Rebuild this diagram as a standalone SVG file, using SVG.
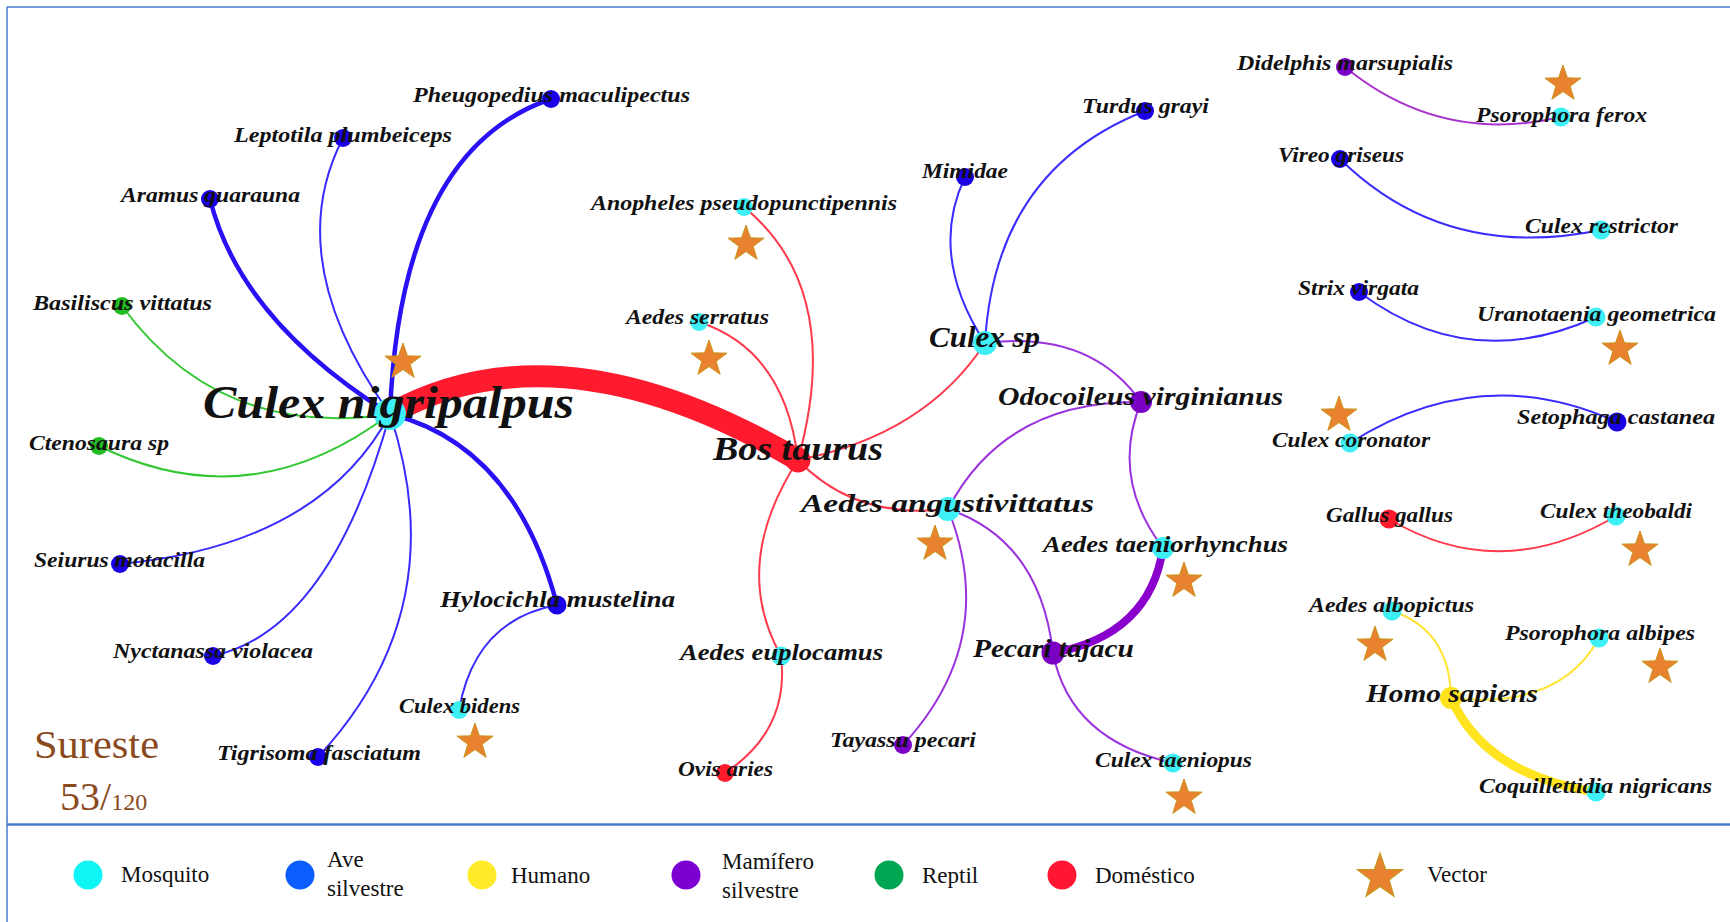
<svg xmlns="http://www.w3.org/2000/svg" width="1730" height="922" viewBox="0 0 1730 922">
<defs>
<style>
.e{fill:none;stroke-linecap:round}
.bl{stroke:#3a2bff;stroke-width:2}
.blt{stroke:#2a10f5;stroke-width:4.5}
.gr{stroke:#33c833;stroke-width:2}
.rd{stroke:#ff3a4c;stroke-width:2}
.pu{stroke:#9a33dd;stroke-width:2}
.ye{stroke:#ffe433;stroke-width:2}
.mo{fill:#3ef0f6}
.av{fill:#1a00e6}
.ma{fill:#7a00c4}
.re{fill:#ff1a2e}
.rp{fill:#22bb22}
.hu{fill:#ffe31a}
.t{font-family:"Liberation Serif",serif;font-weight:bold;font-style:italic;fill:#111;font-size:21px}
.s23{font-size:23px}
.s26{font-size:26px}
.s30{font-size:30px}
.s33{font-size:33px}
.s46{font-size:46px}
.lg{font-family:"Liberation Serif","Times New Roman",serif;fill:#111;font-size:23px}
.st{fill:#e8822e;stroke:#c8961e;stroke-width:1}
</style>
<path id="star" d="M0,-19 L4.47,-6.15 L18.07,-5.87 L7.23,2.35 L11.17,15.37 L0,7.6 L-11.17,15.37 L-7.23,2.35 L-18.07,-5.87 L-4.47,-6.15 Z"/>
</defs>
<rect x="0" y="0" width="1730" height="922" fill="#fff"/>
<g id="frame" stroke="#4a78cc" fill="none">
<line x1="7" y1="7" x2="1730" y2="7" stroke-width="1.5"/>
<line x1="7" y1="7" x2="7" y2="922" stroke-width="1.5"/>
<line x1="7" y1="824.5" x2="1730" y2="824.5" stroke-width="2.5"/>
</g>
<g id="connectors">
<path class="e" d="M390,414 Q560,320 798,460" stroke="#ff1a2e" stroke-width="22"/>
<path class="e blt" d="M390,414 Q400,150 551,99"/>
<path class="e bl" d="M390,414 Q280,260 343,138"/>
<path class="e blt" d="M390,414 Q240,320 210,199"/>
<path class="e gr" d="M390,414 Q220,440 122,306"/>
<path class="e gr" d="M390,414 Q250,520 99,446"/>
<path class="e bl" d="M390,414 Q320,545 120,564"/>
<path class="e bl" d="M390,414 Q330,630 213,656"/>
<path class="e bl" d="M390,414 Q455,610 318,757"/>
<path class="e blt" d="M390,414 Q515,445 557,605"/>
<path class="e bl" d="M557,605 Q475,620 459,710"/>
<path class="e rd" d="M798,460 Q845,290 744,207"/>
<path class="e rd" d="M798,460 Q785,350 699,322"/>
<path class="e rd" d="M798,460 Q925,435 985,343"/>
<path class="e rd" d="M798,460 Q855,520 948,509"/>
<path class="e rd" d="M798,460 Q730,565 781,656"/>
<path class="e rd" d="M781,656 Q790,730 725,773"/>
<path class="e bl" d="M985,343 Q928,255 965,177"/>
<path class="e bl" d="M985,343 Q995,170 1145,111"/>
<path class="e pu" d="M985,343 Q1090,330 1141,402"/>
<path class="e pu" d="M1141,402 Q1005,400 948,509"/>
<path class="e pu" d="M1141,402 Q1110,478 1163,548"/>
<path class="e pu" d="M948,509 Q1040,540 1053,653"/>
<path class="e pu" d="M948,509 Q1000,640 903,745"/>
<path class="e" d="M1163,548 Q1150,635 1053,653" stroke="#8a00cc" stroke-width="8"/>
<path class="e pu" d="M1053,653 Q1070,740 1173,763"/>
<path class="e" d="M1345,67 Q1440,145 1561,117" stroke="#a833cc" stroke-width="2"/>
<path class="e bl" d="M1340,159 Q1445,262 1601,230"/>
<path class="e bl" d="M1359,292 Q1470,375 1596,317"/>
<path class="e bl" d="M1350,443 Q1480,360 1617,422"/>
<path class="e rd" d="M1389,519 Q1500,585 1616,516"/>
<path class="e ye" d="M1451,698 Q1450,630 1392,611"/>
<path class="e ye" d="M1451,698 Q1560,710 1599,638"/>
<path class="e" d="M1451,698 Q1485,775 1596,792" stroke="#ffe41f" stroke-width="9"/>
</g>
<g id="n-culex-nigripalpus"><circle class="mo" cx="390" cy="414" r="16"/><use href="#star" class="st" x="403" y="362"/><text class="t s46" x="203" y="418" textLength="371" lengthAdjust="spacingAndGlyphs">Culex nigripalpus</text></g>
<g id="n-pheugopedius"><circle class="av" cx="551" cy="99" r="9"/><text class="t" x="413" y="102" textLength="277" lengthAdjust="spacingAndGlyphs">Pheugopedius maculipectus</text></g>
<g id="n-leptotila"><circle class="av" cx="343" cy="138" r="9"/><text class="t" x="234" y="142" textLength="218" lengthAdjust="spacingAndGlyphs">Leptotila plumbeiceps</text></g>
<g id="n-aramus"><circle class="av" cx="210" cy="199" r="9"/><text class="t" x="121" y="202" textLength="179" lengthAdjust="spacingAndGlyphs">Aramus guarauna</text></g>
<g id="n-basiliscus"><circle class="rp" cx="122" cy="306" r="9"/><text class="t" x="33" y="310" textLength="179" lengthAdjust="spacingAndGlyphs">Basiliscus vittatus</text></g>
<g id="n-ctenosaura"><circle class="rp" cx="99" cy="446" r="9"/><text class="t" x="29" y="450" textLength="140" lengthAdjust="spacingAndGlyphs">Ctenosaura sp</text></g>
<g id="n-seiurus"><circle class="av" cx="120" cy="564" r="9"/><text class="t" x="34" y="567" textLength="171" lengthAdjust="spacingAndGlyphs">Seiurus motacilla</text></g>
<g id="n-nyctanassa"><circle class="av" cx="213" cy="656" r="9"/><text class="t" x="113" y="658" textLength="200" lengthAdjust="spacingAndGlyphs">Nyctanassa violacea</text></g>
<g id="n-tigrisoma"><circle class="av" cx="318" cy="757" r="9"/><text class="t" x="217" y="760" textLength="204" lengthAdjust="spacingAndGlyphs">Tigrisoma fasciatum</text></g>
<g id="n-hylocichla"><circle class="av" cx="557" cy="605" r="9.5"/><text class="t s23" x="440" y="607" textLength="235" lengthAdjust="spacingAndGlyphs">Hylocichla mustelina</text></g>
<g id="n-culex-bidens"><circle class="mo" cx="459" cy="710" r="9"/><use href="#star" class="st" x="475" y="742"/><text class="t" x="399" y="713" textLength="121" lengthAdjust="spacingAndGlyphs">Culex bidens</text></g>
<g id="n-anopheles"><circle class="mo" cx="744" cy="207" r="9"/><use href="#star" class="st" x="746" y="244"/><text class="t" x="591" y="210" textLength="306" lengthAdjust="spacingAndGlyphs">Anopheles pseudopunctipennis</text></g>
<g id="n-aedes-serratus"><circle class="mo" cx="699" cy="322" r="9"/><use href="#star" class="st" x="709" y="359"/><text class="t" x="626" y="324" textLength="143" lengthAdjust="spacingAndGlyphs">Aedes serratus</text></g>
<g id="n-bos-taurus"><circle class="re" cx="798" cy="460" r="12.5"/><text class="t s33" x="713" y="460" textLength="170" lengthAdjust="spacingAndGlyphs">Bos taurus</text></g>
<g id="n-aedes-euplocamus"><circle class="mo" cx="781" cy="656" r="9.5"/><text class="t s23" x="680" y="660" textLength="203" lengthAdjust="spacingAndGlyphs">Aedes euplocamus</text></g>
<g id="n-ovis-aries"><circle class="re" cx="725" cy="773" r="9"/><text class="t" x="678" y="776" textLength="95" lengthAdjust="spacingAndGlyphs">Ovis aries</text></g>
<g id="n-mimidae"><circle class="av" cx="965" cy="177" r="9"/><text class="t" x="922" y="178" textLength="86" lengthAdjust="spacingAndGlyphs">Mimidae</text></g>
<g id="n-turdus"><circle class="av" cx="1145" cy="111" r="9"/><text class="t" x="1082" y="113" textLength="127" lengthAdjust="spacingAndGlyphs">Turdus grayi</text></g>
<g id="n-culex-sp"><circle class="mo" cx="985" cy="343" r="12"/><text class="t s30" x="929" y="347" textLength="111" lengthAdjust="spacingAndGlyphs">Culex sp</text></g>
<g id="n-odocoileus"><circle class="ma" cx="1141" cy="402" r="11"/><text class="t s26" x="998" y="405" textLength="285" lengthAdjust="spacingAndGlyphs">Odocoileus virginianus</text></g>
<g id="n-aedes-angustivittatus"><circle class="mo" cx="948" cy="509" r="12"/><use href="#star" class="st" x="935" y="544"/><text class="t s26" x="801" y="512" textLength="293" lengthAdjust="spacingAndGlyphs">Aedes angustivittatus</text></g>
<g id="n-aedes-taeniorhynchus"><circle class="mo" cx="1163" cy="548" r="11"/><use href="#star" class="st" x="1184" y="581"/><text class="t s23" x="1043" y="552" textLength="245" lengthAdjust="spacingAndGlyphs">Aedes taeniorhynchus</text></g>
<g id="n-pecari"><circle class="ma" cx="1053" cy="653" r="11.5"/><text class="t s26" x="973" y="657" textLength="161" lengthAdjust="spacingAndGlyphs">Pecari tajacu</text></g>
<g id="n-tayassu"><circle class="ma" cx="903" cy="745" r="9"/><text class="t" x="830" y="747" textLength="146" lengthAdjust="spacingAndGlyphs">Tayassu pecari</text></g>
<g id="n-culex-taeniopus"><circle class="mo" cx="1173" cy="763" r="9.5"/><use href="#star" class="st" x="1184" y="798"/><text class="t" x="1095" y="767" textLength="157" lengthAdjust="spacingAndGlyphs">Culex taeniopus</text></g>
<g id="n-didelphis"><circle class="ma" cx="1345" cy="67" r="9"/><text class="t" x="1237" y="70" textLength="216" lengthAdjust="spacingAndGlyphs">Didelphis marsupialis</text></g>
<g id="n-psorophora-ferox"><circle class="mo" cx="1561" cy="117" r="9.5"/><use href="#star" class="st" x="1563" y="84"/><text class="t" x="1476" y="122" textLength="171" lengthAdjust="spacingAndGlyphs">Psorophora ferox</text></g>
<g id="n-vireo"><circle class="av" cx="1340" cy="159" r="9"/><text class="t" x="1278" y="162" textLength="126" lengthAdjust="spacingAndGlyphs">Vireo griseus</text></g>
<g id="n-culex-restrictor"><circle class="mo" cx="1601" cy="230" r="9.5"/><text class="t" x="1525" y="233" textLength="153" lengthAdjust="spacingAndGlyphs">Culex restrictor</text></g>
<g id="n-strix"><circle class="av" cx="1359" cy="292" r="9"/><text class="t" x="1298" y="295" textLength="121" lengthAdjust="spacingAndGlyphs">Strix virgata</text></g>
<g id="n-uranotaenia"><circle class="mo" cx="1596" cy="317" r="9.5"/><use href="#star" class="st" x="1620" y="349"/><text class="t" x="1477" y="321" textLength="239" lengthAdjust="spacingAndGlyphs">Uranotaenia geometrica</text></g>
<g id="n-culex-coronator"><circle class="mo" cx="1350" cy="443" r="9.5"/><use href="#star" class="st" x="1339" y="415"/><text class="t" x="1272" y="447" textLength="158" lengthAdjust="spacingAndGlyphs">Culex coronator</text></g>
<g id="n-setophaga"><circle class="av" cx="1617" cy="422" r="9.5"/><text class="t" x="1517" y="424" textLength="198" lengthAdjust="spacingAndGlyphs">Setophaga castanea</text></g>
<g id="n-gallus"><circle class="re" cx="1389" cy="519" r="9.5"/><text class="t" x="1326" y="522" textLength="127" lengthAdjust="spacingAndGlyphs">Gallus gallus</text></g>
<g id="n-culex-theobaldi"><circle class="mo" cx="1616" cy="516" r="9.5"/><use href="#star" class="st" x="1640" y="550"/><text class="t" x="1540" y="518" textLength="152" lengthAdjust="spacingAndGlyphs">Culex theobaldi</text></g>
<g id="n-aedes-albopictus"><circle class="mo" cx="1392" cy="611" r="9.5"/><use href="#star" class="st" x="1375" y="645"/><text class="t" x="1309" y="612" textLength="165" lengthAdjust="spacingAndGlyphs">Aedes albopictus</text></g>
<g id="n-psorophora-albipes"><circle class="mo" cx="1599" cy="638" r="9.5"/><use href="#star" class="st" x="1660" y="667"/><text class="t" x="1505" y="640" textLength="190" lengthAdjust="spacingAndGlyphs">Psorophora albipes</text></g>
<g id="n-homo-sapiens"><circle class="hu" cx="1451" cy="698" r="11"/><text class="t s26" x="1366" y="702" textLength="172" lengthAdjust="spacingAndGlyphs">Homo sapiens</text></g>
<g id="n-coquillettidia"><circle class="mo" cx="1596" cy="792" r="9.5"/><text class="t" x="1479" y="793" textLength="233" lengthAdjust="spacingAndGlyphs">Coquillettidia nigricans</text></g>
<g id="title" fill="#8b4a1e" font-family="'Liberation Serif',serif">
<text x="34" y="758" font-size="40" textLength="125" lengthAdjust="spacingAndGlyphs">Sureste</text>
<text x="60" y="810" font-size="40">53/<tspan font-size="24">120</tspan></text>
</g>
<g id="legend" font-family="'Liberation Serif',serif" font-size="23" fill="#111">
<circle cx="88" cy="875" r="14.5" fill="#0ff4f4"/><text x="121" y="882">Mosquito</text>
<circle cx="300" cy="875" r="14.5" fill="#0a5eff"/><text x="327" y="867">Ave</text><text x="327" y="896">silvestre</text>
<circle cx="482" cy="875" r="14.5" fill="#ffeb2a"/><text x="511" y="883">Humano</text>
<circle cx="686" cy="875" r="14.5" fill="#7b00d1"/><text x="722" y="869">Mamífero</text><text x="722" y="898">silvestre</text>
<circle cx="889" cy="875" r="14.5" fill="#00a651"/><text x="922" y="883">Reptil</text>
<circle cx="1062" cy="875" r="14.5" fill="#ff1633"/><text x="1095" y="883">Doméstico</text>
<use href="#star" class="st" transform="translate(1380,877) scale(1.25)"/><text x="1427" y="882">Vector</text>
</g>
</svg>
